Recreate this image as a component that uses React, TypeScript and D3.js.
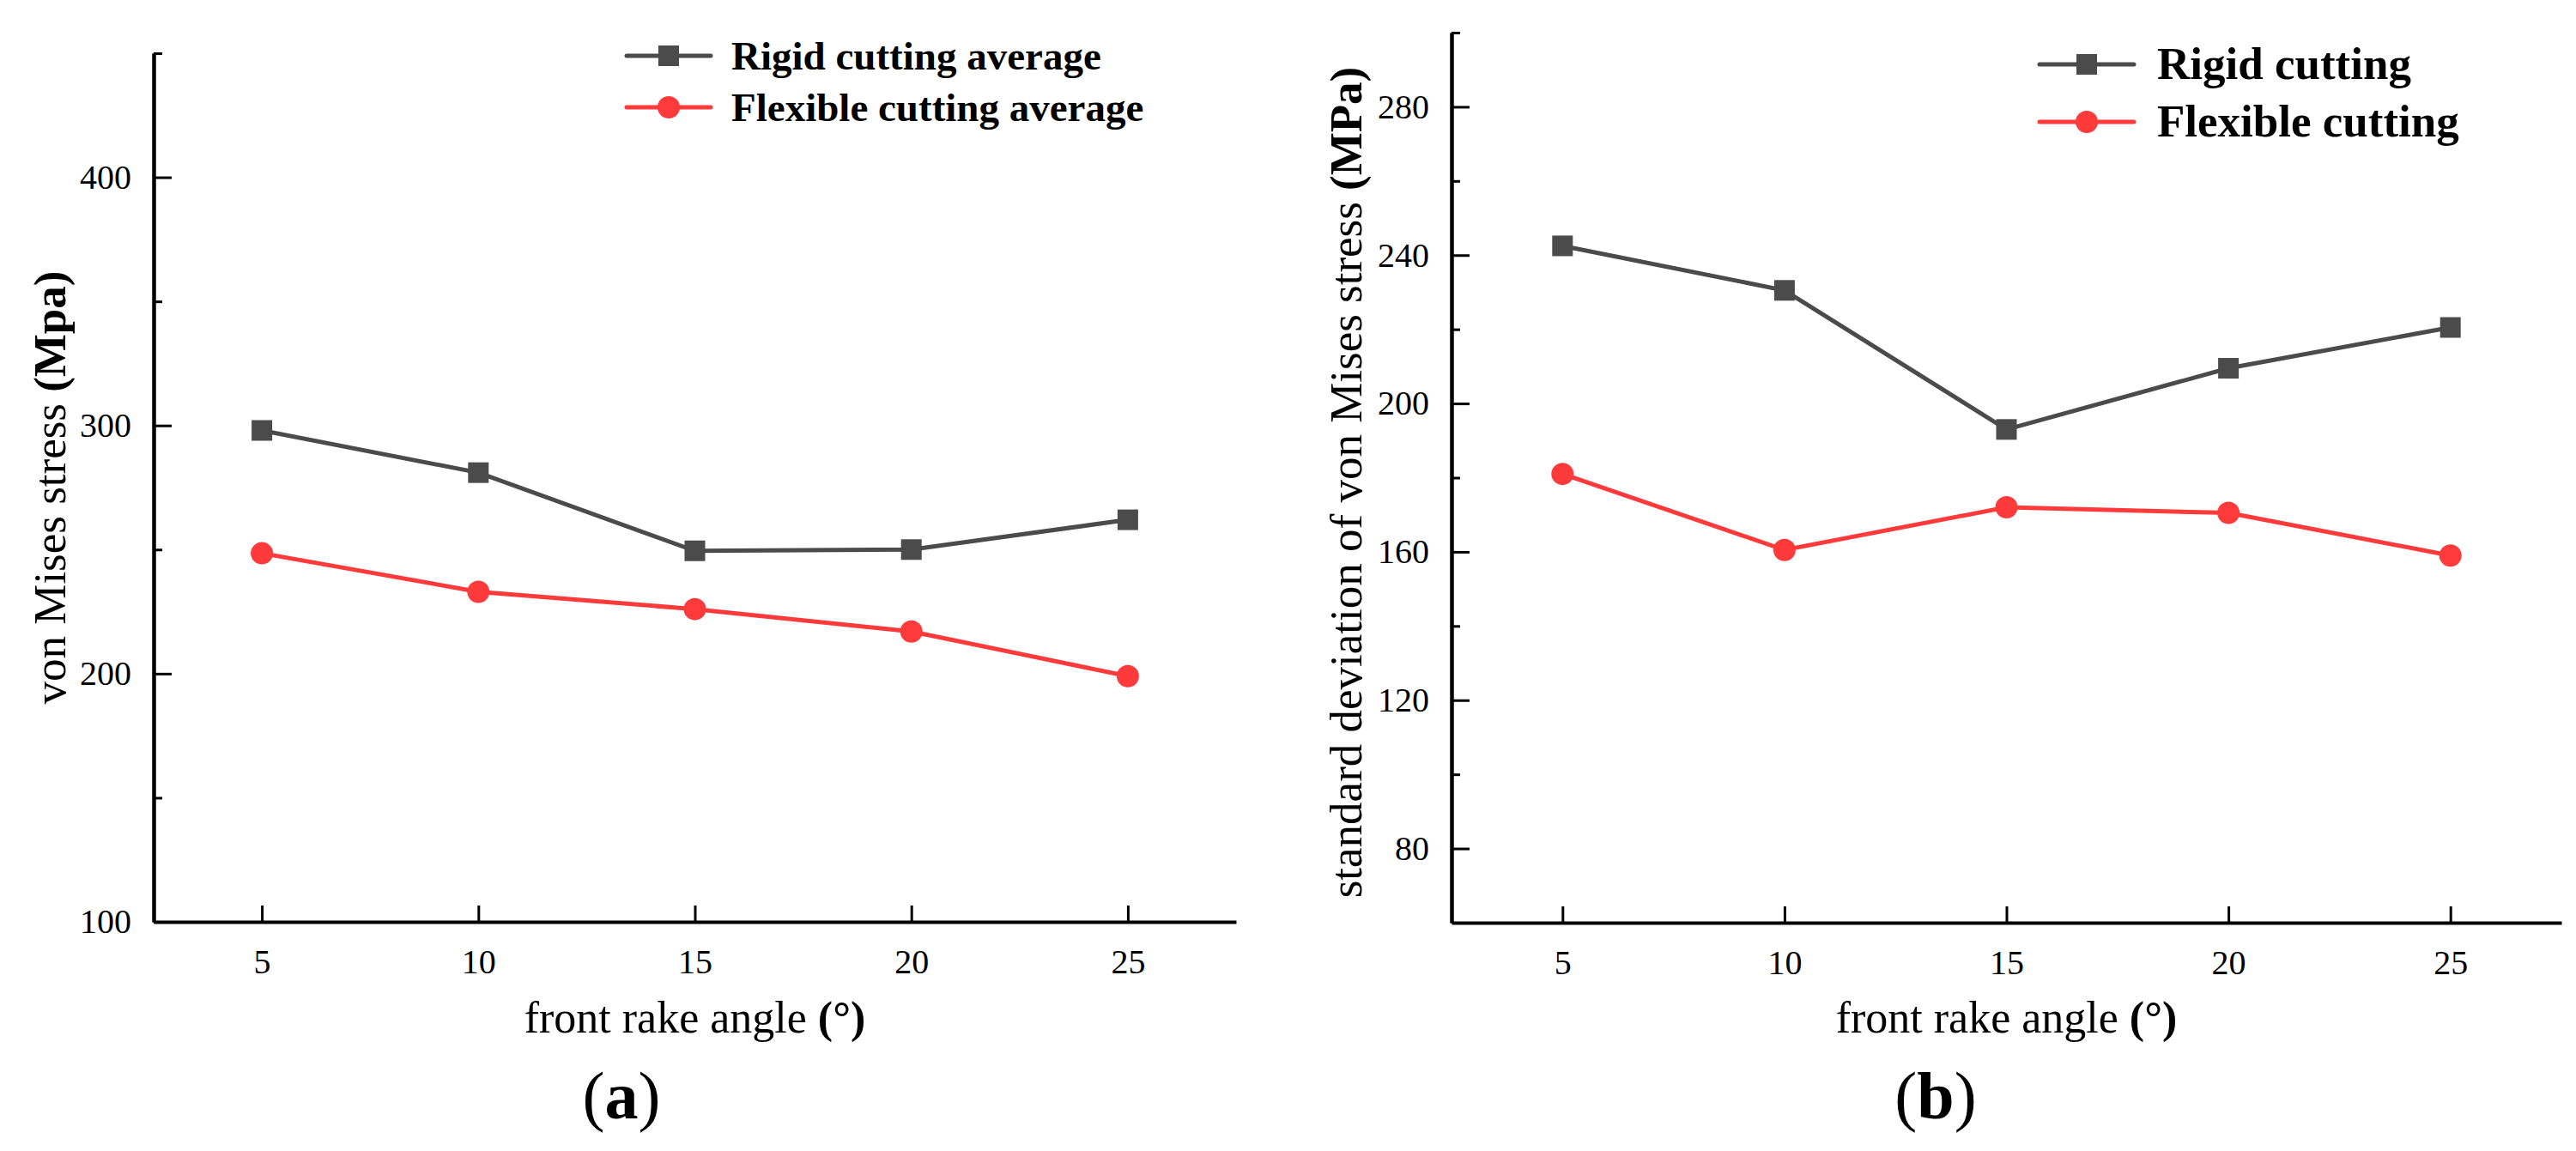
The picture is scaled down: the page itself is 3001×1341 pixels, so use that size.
import { useEffect, useRef } from "react";
import * as d3 from "d3";

// front rake angle (deg)
const angles = [5, 10, 15, 20, 25];

// (a) average von Mises stress (MPa)
const rigidAvg = [298, 281, 249.5, 250, 262];
const flexAvg = [248.5, 233, 226, 217, 199];

// (b) standard deviation of von Mises stress (MPa)
const rigidStd = [242.5, 230.5, 193, 209.5, 220.5];
const flexStd = [181, 160.5, 172, 170.5, 159];

const avgTicks = [100, 200, 300, 400];
const avgMinor = [150, 250, 350, 450];
const stdTicks = [80, 120, 160, 200, 240, 280];
const stdMinor = [100, 140, 180, 220, 260, 300];

const W = 3001;
const H = 1341;
const SERIF = "'Liberation Serif', 'Times New Roman', serif";
const GREY = "#4b4b4b";
const RED = "#ff3a3a";

const panels = [
  {
    left: 179, right: 1440, top: 62, bottom: 1074,
    yDomain: [100, 450], major: avgTicks, minor: avgMinor,
    rigid: rigidAvg, flex: flexAvg,
    names: ["Rigid cutting average", "Flexible cutting average"],
    legend: { x0: 730, x1: 828, y: [65, 125], tx: 852, fs: 47 },
    yTitle: ["von Mises stress ", "(Mpa)"], yTitleX: 58, yTitleY: 568,
    label: "a", labelX: 724,
  },
  {
    left: 1691, right: 2984, top: 38, bottom: 1075,
    yDomain: [60, 300], major: stdTicks, minor: stdMinor,
    rigid: rigidStd, flex: flexStd,
    names: ["Rigid cutting", "Flexible cutting"],
    legend: { x0: 2376, x1: 2486, y: [75, 142], tx: 2513, fs: 53 },
    yTitle: ["standard deviation of von Mises stress ", "(MPa)"], yTitleX: 1568, yTitleY: 562,
    label: "b", labelX: 2255,
  },
];

const App = () => {
  const ref = useRef(null);

  useEffect(() => {
    const svg = d3.select(ref.current);
    svg.html("");
    svg.append("rect").attr("width", W).attr("height", H).attr("fill", "#fff");

    panels.forEach((p) => {
      const x = d3.scaleLinear().domain([2.5, 27.5]).range([p.left, p.right]);
      const y = d3.scaleLinear().domain(p.yDomain).range([p.bottom, p.top]);
      const g = svg.append("g");

      const styleAxis = (a) => {
        a.attr("font-family", SERIF).attr("font-size", 40);
        a.select(".domain").attr("stroke", "#000").attr("stroke-width", 4);
        a.selectAll(".tick line").attr("stroke", "#000").attr("stroke-width", 3);
        a.selectAll(".tick text").attr("fill", "#000");
      };

      // minor y ticks
      g.append("g")
        .attr("transform", `translate(${p.left},0)`)
        .call(d3.axisLeft(y).tickValues(p.minor).tickSize(-10).tickSizeOuter(0).tickFormat(() => ""))
        .call(styleAxis);

      // major y ticks
      g.append("g")
        .attr("transform", `translate(${p.left},0)`)
        .call(d3.axisLeft(y).tickValues(p.major).tickSize(-21).tickSizeOuter(0).tickPadding(26))
        .call(styleAxis);

      // x axis
      g.append("g")
        .attr("transform", `translate(0,${p.bottom})`)
        .call(d3.axisBottom(x).tickValues(angles).tickSize(-19).tickSizeOuter(0).tickPadding(32))
        .call(styleAxis);

      const line = d3
        .line()
        .x((d, i) => x(angles[i]))
        .y((d) => y(d));

      g.append("path").attr("d", line(p.rigid)).attr("fill", "none").attr("stroke", GREY).attr("stroke-width", 5);
      g.append("path").attr("d", line(p.flex)).attr("fill", "none").attr("stroke", RED).attr("stroke-width", 5);

      g.selectAll(".sq")
        .data(p.rigid)
        .enter()
        .append("rect")
        .attr("x", (d, i) => x(angles[i]) - 12)
        .attr("y", (d) => y(d) - 12)
        .attr("width", 24)
        .attr("height", 24)
        .attr("fill", GREY);

      g.selectAll(".dot")
        .data(p.flex)
        .enter()
        .append("circle")
        .attr("cx", (d, i) => x(angles[i]))
        .attr("cy", (d) => y(d))
        .attr("r", 13)
        .attr("fill", RED);

      // legend
      const lg = p.legend;
      const lx = (lg.x0 + lg.x1) / 2;
      [GREY, RED].forEach((c, i) => {
        g.append("line")
          .attr("x1", lg.x0).attr("x2", lg.x1)
          .attr("y1", lg.y[i]).attr("y2", lg.y[i])
          .attr("stroke", c).attr("stroke-width", 5).attr("stroke-linecap", "round");
        if (i === 0) {
          g.append("rect").attr("x", lx - 12).attr("y", lg.y[i] - 12).attr("width", 24).attr("height", 24).attr("fill", c);
        } else {
          g.append("circle").attr("cx", lx).attr("cy", lg.y[i]).attr("r", 13).attr("fill", c);
        }
        g.append("text")
          .attr("x", lg.tx)
          .attr("y", lg.y[i])
          .attr("dy", "0.33em")
          .attr("font-family", SERIF)
          .attr("font-weight", "bold")
          .attr("font-size", lg.fs)
          .text(p.names[i]);
      });

      // y title
      const yt = g.append("text")
        .attr("transform", `translate(${p.yTitleX},${p.yTitleY}) rotate(-90)`)
        .attr("text-anchor", "middle")
        .attr("dy", "0.33em")
        .attr("font-family", SERIF)
        .attr("font-size", 53);
      yt.append("tspan").text(p.yTitle[0]);
      yt.append("tspan").attr("font-weight", "bold").text(p.yTitle[1]);

      // x title
      const xt = g.append("text")
        .attr("x", x(15))
        .attr("y", 1203)
        .attr("text-anchor", "middle")
        .attr("font-family", SERIF)
        .attr("font-size", 52);
      xt.append("tspan").text("front rake angle ");
      xt.append("tspan").attr("font-weight", "bold").text("(°)");

      // panel label
      const pl = g.append("text")
        .attr("x", p.labelX)
        .attr("y", 1303)
        .attr("text-anchor", "middle")
        .attr("font-family", SERIF)
        .attr("font-size", 78);
      pl.append("tspan").text("(");
      pl.append("tspan").attr("font-weight", "bold").text(p.label);
      pl.append("tspan").text(")");
    });
  }, []);

  return (
    <div style={{ position: "absolute", left: 0, top: 0 }}>
      <svg ref={ref} width={W} height={H}></svg>
    </div>
  );
};

export default App;
